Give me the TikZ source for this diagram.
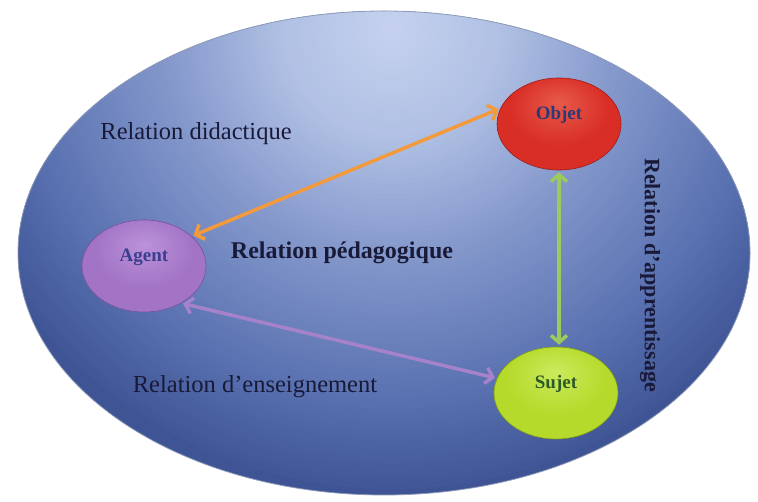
\documentclass[tikz,border=0pt]{standalone}
\usepackage{fontspec}
\setmainfont{Liberation Serif}
\usetikzlibrary{arrows.meta,shapes.geometric}
\definecolor{bgA}{HTML}{C6D2EE}
\definecolor{bgA2}{HTML}{B0C0E4}
\definecolor{bgB}{HTML}{8599CC}
\definecolor{bgC}{HTML}{5870B0}
\definecolor{bgD}{HTML}{3E5494}
\definecolor{redA}{HTML}{E85A4A}
\definecolor{redB}{HTML}{D82E26}
\definecolor{redC}{HTML}{A01C18}
\definecolor{purA}{HTML}{BC92DA}
\definecolor{purB}{HTML}{A374C6}
\definecolor{purC}{HTML}{7A529C}
\definecolor{grnA}{HTML}{CCEA5C}
\definecolor{grnB}{HTML}{B6DA2C}
\definecolor{grnC}{HTML}{7E9C14}
\definecolor{arrOr}{HTML}{F39A3C}
\definecolor{arrGr}{HTML}{9CCB5A}
\definecolor{arrPu}{HTML}{A682CA}
\definecolor{txtDark}{HTML}{181A38}
\definecolor{txtObj}{HTML}{2B3A78}
\definecolor{txtAg}{HTML}{3B3F8F}
\definecolor{txtSu}{HTML}{2D5A2A}
\definecolor{rim}{HTML}{8E9AB8}
\pgfdeclareradialshading{redsh}{\pgfpoint{0bp}{12bp}}{color(0bp)=(redA); color(20bp)=(redB); color(48bp)=(redB); color(60bp)=(redC)}
\pgfdeclareradialshading{pursh}{\pgfpoint{0bp}{12bp}}{color(0bp)=(purA); color(20bp)=(purB); color(48bp)=(purB); color(60bp)=(purC)}
\pgfdeclareradialshading{grnsh}{\pgfpoint{0bp}{12bp}}{color(0bp)=(grnA); color(20bp)=(grnB); color(48bp)=(grnB); color(60bp)=(grnC)}
\tikzset{
  ball/.style={ellipse, minimum width=124pt, minimum height=92pt, inner sep=0pt,
     font=\fontsize{19}{21}\selectfont\bfseries, text height=14pt, text depth=22pt},
  rel/.style={font=\fontsize{24.5}{27}\selectfont, text=txtDark, inner sep=0pt},
  link/.style={line width=3.5pt, {Straight Barb[length=7pt,width=16pt]}-{Straight Barb[length=7pt,width=16pt]}, shorten <=2pt, shorten >=2pt}
}
\begin{document}
\begin{tikzpicture}[x=1pt,y=1pt]
\useasboundingbox (0,0) rectangle (758,501);
\fill[white] (0,0) rectangle (758,501);
% big ellipse, radial gradient built from concentric discs
\begin{scope}
\clip (384,248) ellipse [x radius=366, y radius=242];
\fill[bgD] (0,0) rectangle (758,501);
\foreach \r in {460,455,...,5} {
  \pgfmathsetmacro{\t}{\r/9.4}
  \ifdim \t pt<12pt \pgfmathsetmacro{\p}{\t/12*100}\def\cc{bgA2!\p!bgA}%
  \else\ifdim \t pt<24pt \pgfmathsetmacro{\p}{(\t-12)/12*100}\def\cc{bgB!\p!bgA2}%
  \else\ifdim \t pt<40pt \pgfmathsetmacro{\p}{(\t-24)/16*100}\def\cc{bgC!\p!bgB}%
  \else \pgfmathsetmacro{\p}{min(100,(\t-40)/10*100)}\def\cc{bgD!\p!bgC}\fi\fi\fi
  \fill[color=\cc] (392,472) circle (\r);
}
\end{scope}
\draw[white, line width=4pt] (384,248) ellipse [x radius=368.4, y radius=244.4];
\draw[rim, line width=0.8pt] (384,248) ellipse [x radius=366, y radius=242];
% nodes
\node[ball, shading=redsh, draw=redC, line width=0.6pt, text=txtObj] (objet) at (559,377) {Objet};
\node[ball, shading=pursh, draw=purC, line width=0.6pt, text=txtAg] (agent) at (144,235) {Agent};
\node[ball, shading=grnsh, draw=grnC, line width=0.6pt, text=txtSu] (sujet) at (556,108) {Sujet};
% connectors
\draw[link, draw=arrOr] (agent.32) -- (objet.165);
\draw[link, draw=arrGr] (objet.south) -- (objet.south |- sujet.north);
\draw[link, draw=arrPu] (agent.-45) -- (sujet.166);
% labels
\node[rel] (ldid) at (196,367) {Relation didactique};
\node[rel, font=\fontsize{24}{27}\selectfont\bfseries] (lped) at (342,248) {Relation pédagogique};
\node[rel] (lens) at (255,114) {Relation d’enseignement};
\node[rel, rotate=-90, font=\fontsize{22}{24}\selectfont\bfseries] (lapp) at (650,226) {Relation d’apprentissage};
\end{tikzpicture}
\end{document}
